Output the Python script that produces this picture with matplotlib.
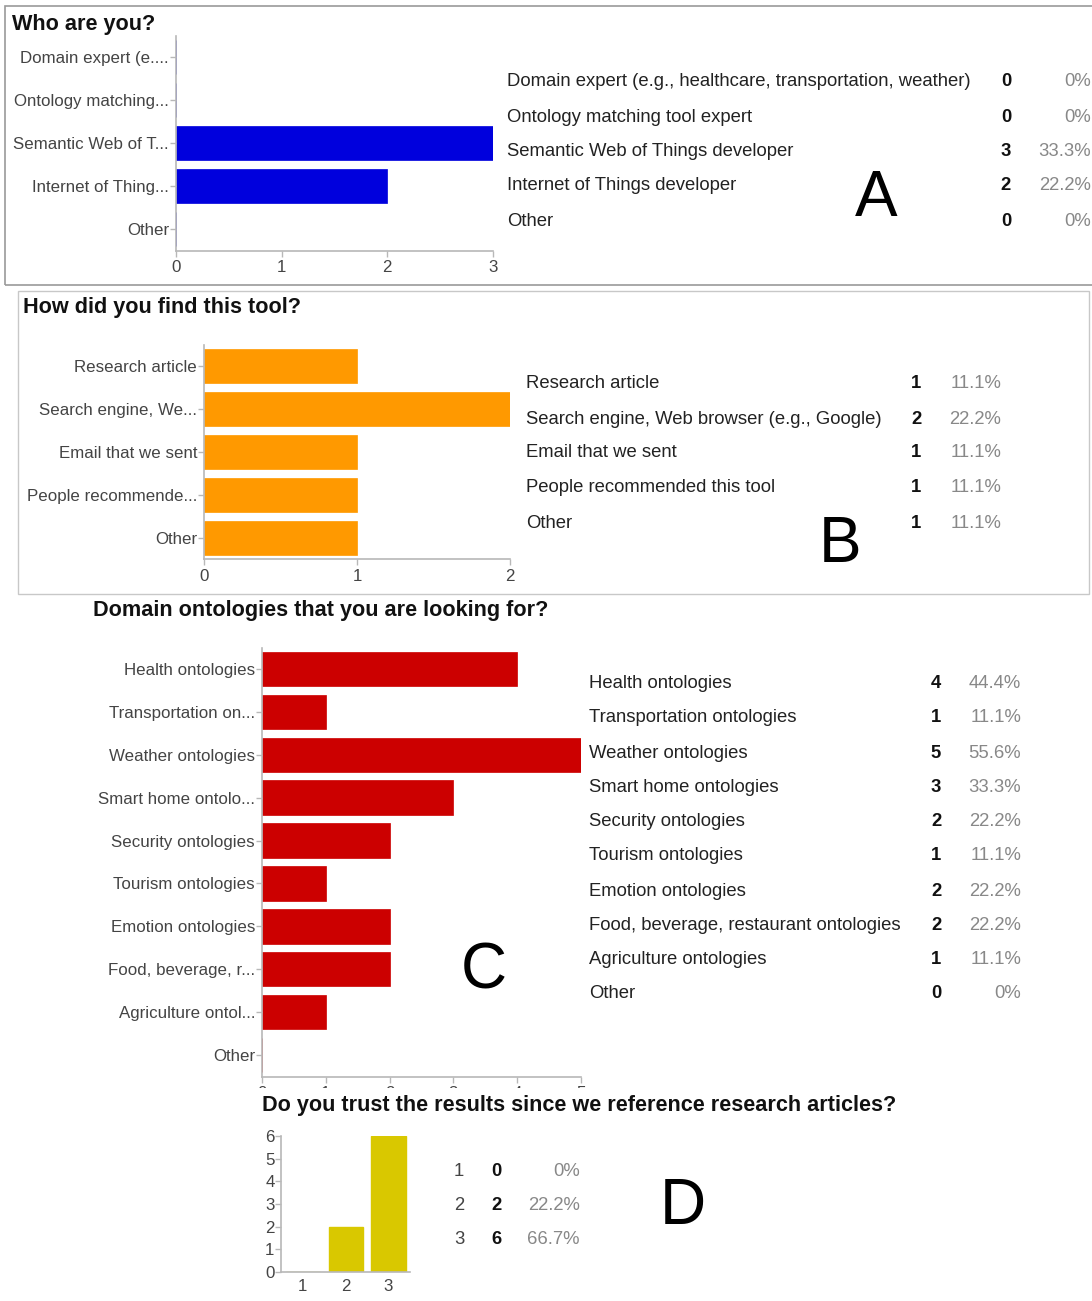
import matplotlib
matplotlib.use("Agg")
import matplotlib.pyplot as plt
from matplotlib.patches import Rectangle

plt.rcParams['font.family'] = ['Liberation Sans', 'DejaVu Sans']

W, H = 1092, 1301

# ---------------- data ----------------
A_title = "Who are you?"
A_ticklabels = ["Domain expert (e....", "Ontology matching...", "Semantic Web of T...",
                "Internet of Thing...", "Other"]
A_labels = ["Domain expert (e.g., healthcare, transportation, weather)",
            "Ontology matching tool expert", "Semantic Web of Things developer",
            "Internet of Things developer", "Other"]
A_counts = [0, 0, 3, 2, 0]
A_pct = ["0%", "0%", "33.3%", "22.2%", "0%"]

B_title = "How did you find this tool?"
B_ticklabels = ["Research article", "Search engine, We...", "Email that we sent",
                "People recommende...", "Other"]
B_labels = ["Research article", "Search engine, Web browser (e.g., Google)",
            "Email that we sent", "People recommended this tool", "Other"]
B_counts = [1, 2, 1, 1, 1]
B_pct = ["11.1%", "22.2%", "11.1%", "11.1%", "11.1%"]

C_title = "Domain ontologies that you are looking for?"
C_ticklabels = ["Health ontologies", "Transportation on...", "Weather ontologies",
                "Smart home ontolo...", "Security ontologies", "Tourism ontologies",
                "Emotion ontologies", "Food, beverage, r...", "Agriculture ontol...", "Other"]
C_labels = ["Health ontologies", "Transportation ontologies", "Weather ontologies",
            "Smart home ontologies", "Security ontologies", "Tourism ontologies",
            "Emotion ontologies", "Food, beverage, restaurant ontologies",
            "Agriculture ontologies", "Other"]
C_counts = [4, 1, 5, 3, 2, 1, 2, 2, 1, 0]
C_pct = ["44.4%", "11.1%", "55.6%", "33.3%", "22.2%", "11.1%", "22.2%", "22.2%", "11.1%", "0%"]

D_title = "Do you trust the results since we reference research articles?"
D_categories = [1, 2, 3]
D_counts = [0, 2, 6]
D_pct = ["0%", "22.2%", "66.7%"]

# ---------------- helpers ----------------
fig = plt.figure(figsize=(W / 100, H / 100), dpi=100)

def rect(x0, y0, x1, y1):
    return [x0 / W, 1 - y1 / H, (x1 - x0) / W, (y1 - y0) / H]

def ftext(x, y, s, **kw):
    kw.setdefault('va', 'center_baseline')
    return fig.text(x / W, 1 - y / H, s, **kw)

SPINE = '#b8b8b8'
TICKC = '#444444'
TITLE_SIZE = 15.6
TABLE_SIZE = 13.3
TICK_SIZE = 12.2

def style_axes(ax):
    for s in ['top', 'right']:
        ax.spines[s].set_visible(False)
    for s in ['left', 'bottom']:
        ax.spines[s].set_color(SPINE)
        ax.spines[s].set_linewidth(1.2)
    ax.tick_params(colors=SPINE, labelcolor=TICKC, length=4, width=1,
                   labelsize=TICK_SIZE, pad=1)

def hbar_panel(box, labels, counts, color, xmax):
    ax = fig.add_axes(rect(*box))
    y = list(range(len(labels)))
    ax.barh(y, counts, height=0.8, color=color, edgecolor=color, linewidth=0.5)
    ax.set_ylim(len(labels) - 0.5, -0.5)
    ax.set_xlim(0, xmax)
    ax.set_yticks(y)
    ax.set_yticklabels(labels)
    ax.set_xticks(range(xmax + 1))
    style_axes(ax)
    ax.tick_params(axis='x', pad=3)
    return ax

def table(x_label, x_count, x_pct, ys, labels, counts, pcts, size=TABLE_SIZE):
    for yy, l, c, p in zip(ys, labels, counts, pcts):
        ftext(x_label, yy, l, fontsize=size, color='#222222')
        ftext(x_count, yy, str(c), fontsize=size, color='#111111', fontweight='bold', ha='center')
        ftext(x_pct, yy, p, fontsize=size, color='#888888', ha='right')

# ---------------- panel frames ----------------
fig.patches.append(Rectangle((5 / W, 1 - 285 / H), 1200 / W, 279 / H, transform=fig.transFigure,
                             fill=False, edgecolor='#9a9a9a', linewidth=1.2))
fig.patches.append(Rectangle((18 / W, 1 - 594 / H), 1071 / W, 303 / H, transform=fig.transFigure,
                             fill=False, edgecolor='#c8c8c8', linewidth=1.0))

# ---------------- panel A ----------------
hbar_panel((176, 35.5, 493, 250.5), A_ticklabels, A_counts, '#0000DD', 3)
ftext(12, 22, A_title, fontsize=TITLE_SIZE, fontweight='bold', color='#111111')
table(507, 1006, 1091, [80, 115, 150, 184, 219], A_labels, A_counts, A_pct)
ftext(876, 193, "A", fontsize=46, color='black', ha='center')

# ---------------- panel B ----------------
hbar_panel((204, 344.5, 510, 559.5), B_ticklabels, B_counts, '#FF9900', 2)
ftext(23, 305, B_title, fontsize=TITLE_SIZE, fontweight='bold', color='#111111')
table(526, 916, 1001, [382, 417, 451, 486, 521], B_labels, B_counts, B_pct)
ftext(840, 538, "B", fontsize=46, color='black', ha='center')

# ---------------- panel C ----------------
axc = hbar_panel((262, 647.5, 581, 1076.5), C_ticklabels, C_counts, '#CC0000', 5)
ftext(93, 608, C_title, fontsize=TITLE_SIZE, fontweight='bold', color='#111111')
table(589, 936, 1021, [682, 716, 751, 785, 820, 854, 889, 923, 958, 992],
      C_labels, C_counts, C_pct)
ftext(484, 965, "C", fontsize=46, color='black', ha='center')

# white cover (panel D area overlaps C's tick labels in the reference)
cover = Rectangle((0, 0), 1, 1 - 1088 / H, transform=fig.transFigure,
                  facecolor='white', edgecolor='none', zorder=1)
fig.patches.append(cover)

# ---------------- panel D ----------------
axd = fig.add_axes(rect(281.5, 1136, 410, 1272))
axd.set_zorder(2)
axd.bar(D_categories, D_counts, width=0.8, color='#D9C800', edgecolor='#D9C800')
axd.set_xlim(0.5, 3.5)
axd.set_ylim(0, 6)
axd.set_xticks(D_categories)
axd.set_yticks(range(7))
style_axes(axd)
axd.tick_params(axis='x', length=0, pad=5)
axd.tick_params(axis='y', pad=1)
ftext(262, 1103, D_title, fontsize=TITLE_SIZE, fontweight='bold', color='#111111', zorder=3)
for yy, cat, c, p in zip([1169, 1204, 1238], D_categories, D_counts, D_pct):
    ftext(459, yy, str(cat), fontsize=TABLE_SIZE, color='#444444', ha='center', zorder=3)
    ftext(496, yy, str(c), fontsize=TABLE_SIZE, color='#111111', fontweight='bold', ha='center', zorder=3)
    ftext(580, yy, p, fontsize=TABLE_SIZE, color='#888888', ha='right', zorder=3)
ftext(683, 1200, "D", fontsize=46, color='black', ha='center', zorder=3)

fig.savefig("out.png", dpi=100, facecolor='white')
